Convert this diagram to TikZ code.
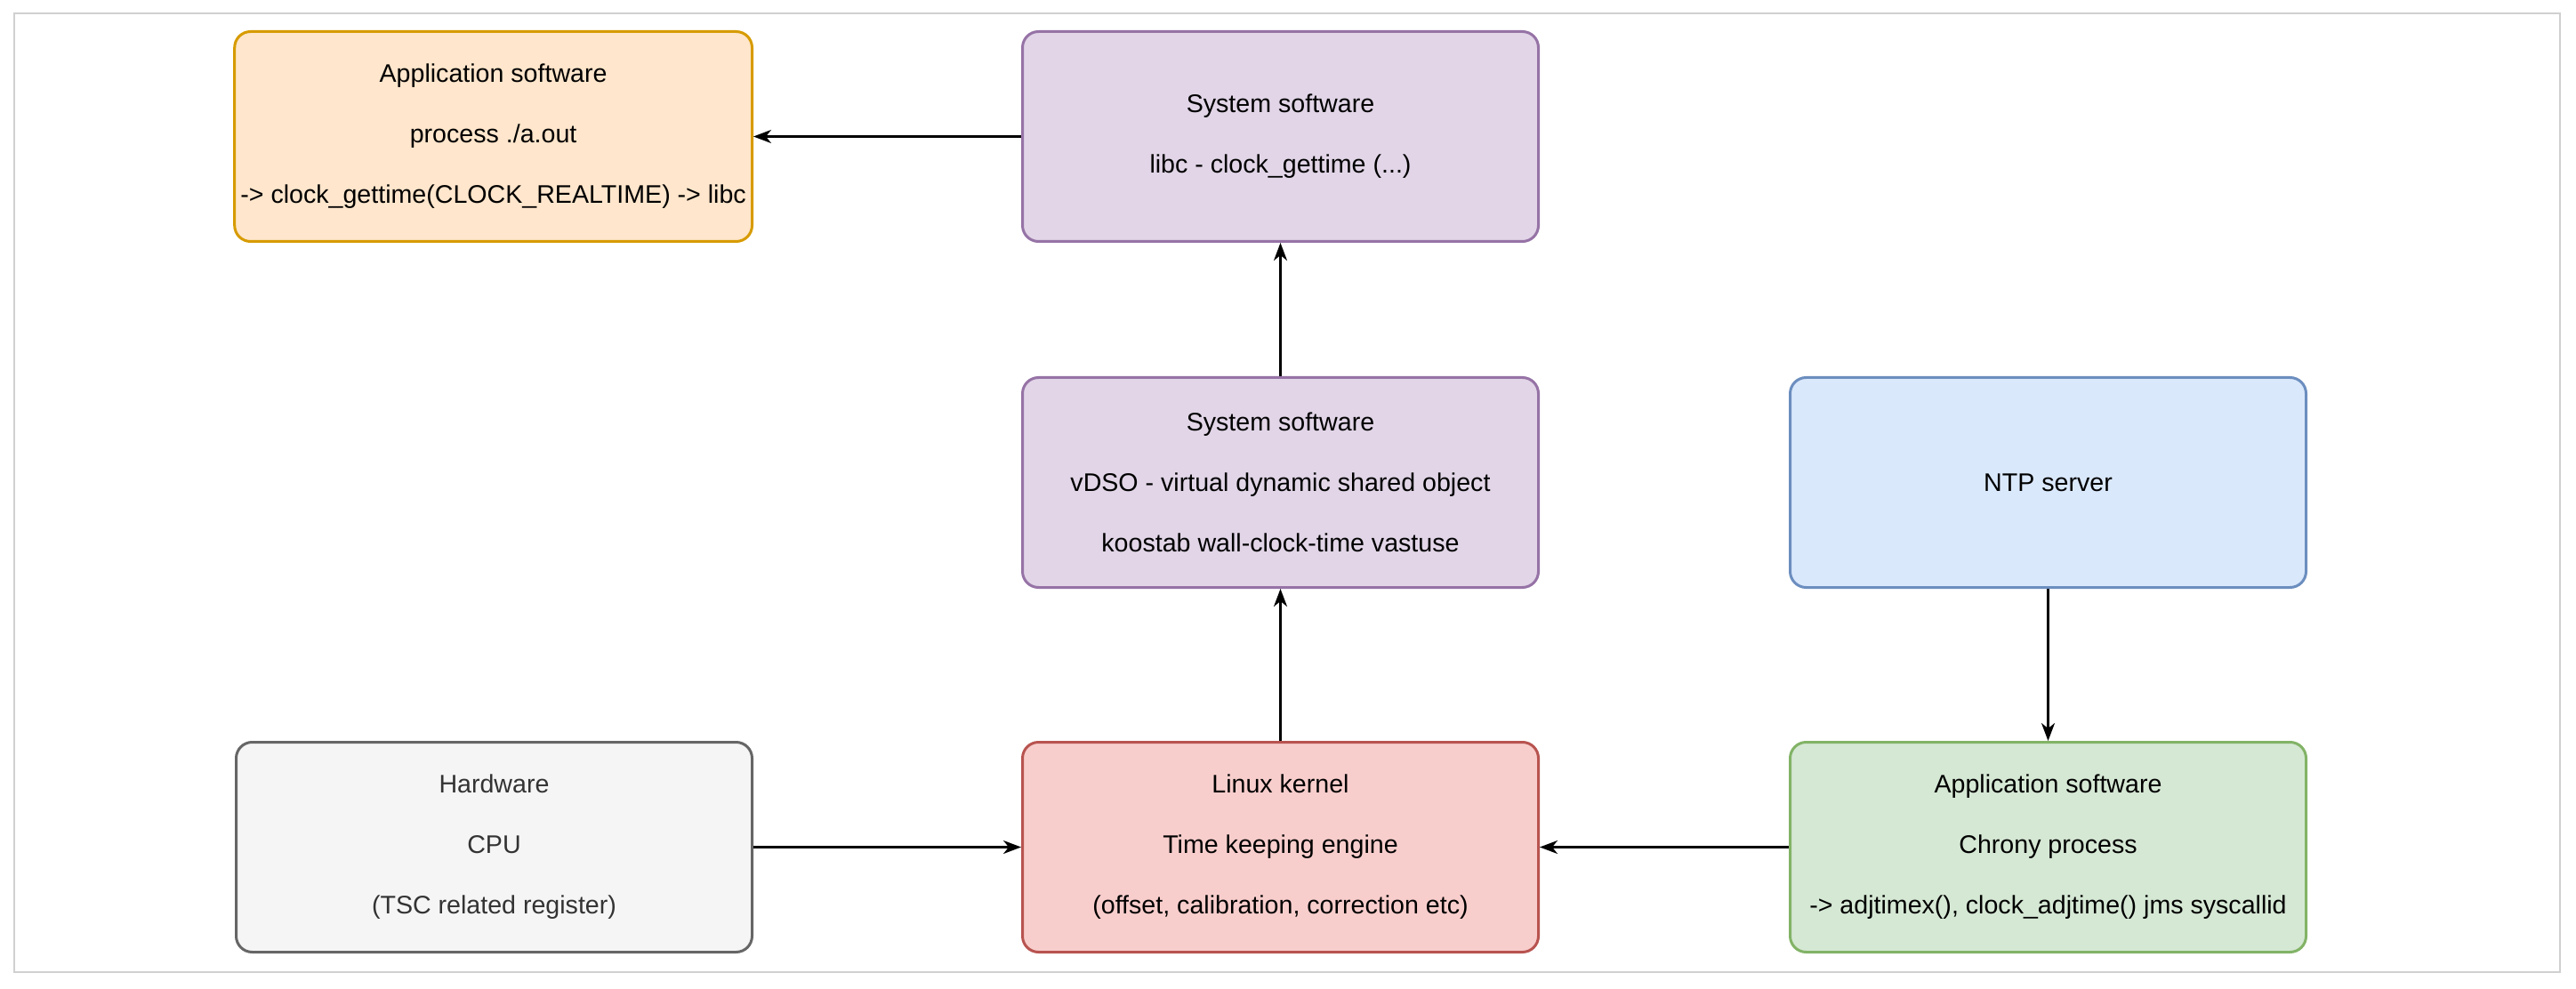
\documentclass[tikz,border=0pt]{standalone}
\usepackage{fontspec}
\setmainfont{Liberation Sans}
\usepackage{xcolor}
\usetikzlibrary{arrows.meta, positioning}

\definecolor{appfill}{HTML}{FFE6CC}
\definecolor{appline}{HTML}{D79B00}
\definecolor{sysfill}{HTML}{E1D5E7}
\definecolor{sysline}{HTML}{9673A6}
\definecolor{ntpfill}{HTML}{DAE8FC}
\definecolor{ntpline}{HTML}{6C8EBF}
\definecolor{kernfill}{HTML}{F8CECC}
\definecolor{kernline}{HTML}{B85450}
\definecolor{chronyfill}{HTML}{D5E8D4}
\definecolor{chronyline}{HTML}{82B366}
\definecolor{hwfill}{HTML}{F5F5F5}
\definecolor{hwline}{HTML}{666666}
\definecolor{hwtext}{HTML}{333333}
\definecolor{framegray}{HTML}{D0D0D0}

\begin{document}
\begin{tikzpicture}[
    node distance=75pt,
    box/.style={rectangle, rounded corners=9pt, draw, line width=1.5pt, minimum width=290pt, minimum height=118pt, align=center, font=\fontsize{14.3pt}{34pt}\selectfont},
    arrow/.style={-{Stealth[length=10pt, width=7.5pt, inset=3pt]}, line width=1.2pt}
]
    \useasboundingbox (0,0) rectangle (1448pt,-556pt);
    \draw[framegray, line width=1pt] (8pt,-7.5pt) rectangle (1439pt,-546.5pt);

    % Nodes
    \node[box, fill=sysfill, draw=sysline] (libc) at (719.75pt,-76.75pt) {System software\\libc - clock\_gettime (...)};
    \node[box, fill=appfill, draw=appline, left=150.5pt of libc] (aout) {Application software\\process ./a.out\\-> clock\_gettime(CLOCK\_REALTIME) -> libc};
    \node[box, fill=sysfill, draw=sysline, below=of libc] (vdso) {System software\\vDSO - virtual dynamic shared object\\koostab wall-clock-time vastuse};
    \node[box, fill=kernfill, draw=kernline, below=85.5pt of vdso] (kernel) {Linux kernel\\Time keeping engine\\(offset, calibration, correction etc)};
    \node[box, fill=hwfill, draw=hwline, text=hwtext, left=150.5pt of kernel] (cpu) {Hardware\\CPU\\(TSC related register)};
    \node[box, fill=chronyfill, draw=chronyline, right=140pt of kernel] (chrony) {Application software\\Chrony process\\-> adjtimex(), clock\_adjtime() jms syscallid};
    \node[box, fill=ntpfill, draw=ntpline, above=85.5pt of chrony] (ntp) {NTP server};

    % Arrows
    \draw[arrow] (libc) -- (aout);
    \draw[arrow] (vdso) -- (libc);
    \draw[arrow] (kernel) -- (vdso);
    \draw[arrow] (cpu) -- (kernel);
    \draw[arrow] (chrony) -- (kernel);
    \draw[arrow] (ntp) -- (chrony);
\end{tikzpicture}
\end{document}
